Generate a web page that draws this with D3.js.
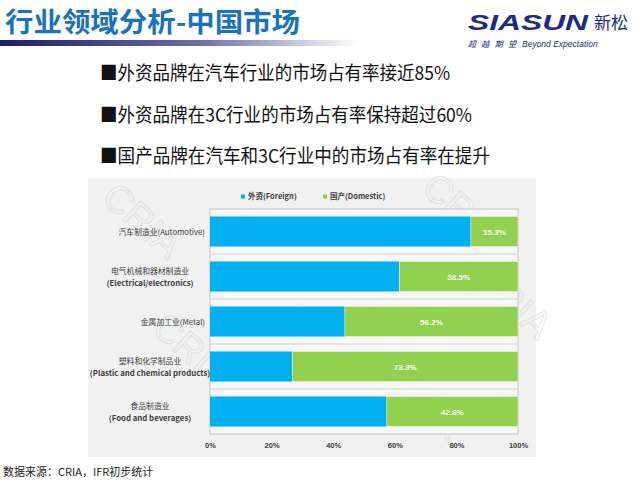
<!DOCTYPE html>
<html>
<head>
<meta charset="utf-8">
<script src="https://cdn.jsdelivr.net/npm/d3@7"></script>
<style>
  body { margin: 0; background: #fff; }
  svg { display: block; font-family: "Noto Sans CJK SC", "Liberation Sans", sans-serif; }
</style>
</head>
<body>
<svg id="chart" width="640" height="481"></svg>
<script>
// chart data
const categories = [
  ["汽车制造业(Automotive)"],
  ["电气机械和器材制造业", "(Electrical/electronics)"],
  ["金属加工业(Metal)"],
  ["塑料和化学制品业", "(Plastic and chemical products)"],
  ["食品制造业", "(Food and beverages)"]
]
const domestic = [15.3, 38.5, 56.2, 73.3, 42.6]
const foreign = domestic.map(d => 100 - d)
const seriesNames = ["外资(Foreign)", "国产(Domestic)"]
const ticks = [0, 20, 40, 60, 80, 100]
const bullets = [
  "外资品牌在汽车行业的市场占有率接近85%",
  "外资品牌在3C行业的市场占有率保持超过60%",
  "国产品牌在汽车和3C行业中的市场占有率在提升"
]
const bulletWidths = [350, 372, 390]

const blue = "#00b0f0", green = "#92d050"
const svg = d3.select("#chart")

// header
let grad = svg.append("defs").append("linearGradient").attr("id", "uline")
grad.append("stop").attr("offset", "0%").attr("stop-color", "#1c1c6b")
grad.append("stop").attr("offset", "55%").attr("stop-color", "#6c6ca8")
grad.append("stop").attr("offset", "100%").attr("stop-color", "#ffffff")
svg.append("rect").attr("x", 0).attr("y", 40).attr("width", 360).attr("height", 6).attr("fill", "url(#uline)")

svg.append("text").attr("x", 5).attr("y", 32)
  .attr("font-size", 27).attr("font-weight", 700).attr("fill", "#1a72bb")
  .attr("textLength", 295).attr("lengthAdjust", "spacingAndGlyphs")
  .text("行业领域分析-中国市场")

// logo
svg.append("text").attr("x", 468).attr("y", 30)
  .attr("font-family", "Liberation Sans").attr("font-size", 22).attr("font-weight", 700)
  .attr("font-style", "italic").attr("fill", "#1d2a8a")
  .attr("textLength", 120).attr("lengthAdjust", "spacingAndGlyphs")
  .text("SIASUN")
svg.append("text").attr("x", 594).attr("y", 29)
  .attr("font-size", 17).attr("fill", "#1d2a8a").text("新松")
svg.append("text").attr("x", 468).attr("y", 47)
  .attr("font-size", 8).attr("font-style", "italic").attr("fill", "#1d2a8a")
  .attr("textLength", 48).text("超越期望")
svg.append("text").attr("x", 522).attr("y", 47)
  .attr("font-family", "Liberation Sans").attr("font-size", 8.5).attr("font-style", "italic").attr("fill", "#1d2a8a")
  .text("Beyond Expectation")

// bullets
svg.selectAll(".bullet").data(bullets).enter().append("text")
  .attr("class", "bullet")
  .attr("x", 100).attr("y", (d, i) => 80 + i * 41.5)
  .attr("font-size", 19).attr("fill", "#111")
  .attr("textLength", (d, i) => bulletWidths[i]).attr("lengthAdjust", "spacingAndGlyphs")
  .text(d => "■" + d)

// chart panel
svg.append("rect").attr("x", 88).attr("y", 178).attr("width", 448).attr("height", 279).attr("fill", "#f1f1f1")

// watermark
const wm = svg.append("g").attr("fill", "none").attr("stroke", "#e0e0e0").attr("stroke-width", 0.8)
  .attr("font-family", "Liberation Sans").attr("font-size", 38)
;[[100, 200], [230, 250], [330, 300], [420, 190], [150, 330], [380, 380], [470, 280]].forEach(p => {
  wm.append("text").attr("transform", `translate(${p[0]},${p[1]}) rotate(42)`).text("CRIA")
})

const m = { left: 210, right: 518, top: 209, bottom: 434 }
const x = d3.scaleLinear().domain([0, 100]).range([m.left, m.right])
const y = d3.scaleBand().domain(d3.range(categories.length)).range([m.top, m.bottom]).paddingInner(1 / 3).paddingOuter(1 / 6)

svg.append("rect").attr("x", m.left).attr("y", m.top)
  .attr("width", m.right - m.left).attr("height", m.bottom - m.top)
  .attr("fill", "#f9f9f9").attr("fill-opacity", 0.8).attr("stroke", "#c3c3c3")

// band separators
svg.selectAll(".sep").data(d3.range(1, categories.length)).enter().append("line")
  .attr("x1", m.left).attr("x2", m.right)
  .attr("y1", i => m.top + i * y.step()).attr("y2", i => m.top + i * y.step())
  .attr("stroke", "#d0d0d0")

const rows = svg.selectAll(".row").data(categories).enter().append("g")
rows.append("rect")
  .attr("x", x(0)).attr("y", (d, i) => y(i))
  .attr("width", (d, i) => x(foreign[i]) - x(0)).attr("height", y.bandwidth())
  .attr("fill", blue)
rows.append("rect")
  .attr("x", (d, i) => x(foreign[i])).attr("y", (d, i) => y(i))
  .attr("width", (d, i) => x(100) - x(foreign[i])).attr("height", y.bandwidth())
  .attr("fill", green).attr("stroke", "#e8f6d8").attr("stroke-width", 0.6)
rows.append("text")
  .attr("x", (d, i) => x(foreign[i] + domestic[i] / 2)).attr("y", (d, i) => y(i) + y.bandwidth() / 2 + 3)
  .attr("text-anchor", "middle").attr("font-family", "Liberation Sans")
  .attr("font-size", 8).attr("font-weight", 700).attr("fill", "#fff")
  .text((d, i) => domestic[i].toFixed(1) + "%")

// category labels
rows.each(function(d, i) {
  let t = d3.select(this).append("text")
    .attr("font-size", 7.8).attr("fill", "#404040")
  let cx = d.length > 1 ? 150 : 205
  t.attr("text-anchor", d.length > 1 ? "middle" : "end")
  d.forEach((line, k) => {
    t.append("tspan").attr("x", cx)
      .attr("y", y(i) + y.bandwidth() / 2 + 3 + (k - (d.length - 1) / 2) * 12)
      .attr("font-weight", /\(/.test(line) && !/[\u4e00-\u9fff]/.test(line) ? 700 : 400)
      .text(line)
  })
})

// x axis
const axis = svg.append("g").attr("transform", `translate(0,${m.bottom})`)
  .call(d3.axisBottom(x).tickValues(ticks).tickFormat(d => d + "%").tickSize(0).tickPadding(9))
axis.select(".domain").remove()
axis.selectAll("text").attr("font-family", "Liberation Sans").attr("font-size", 7.5)
  .attr("font-weight", 700).attr("fill", "#404040")

// legend
const legend = svg.append("g").attr("transform", "translate(241,199)")
seriesNames.forEach((s, i) => {
  let g = legend.append("g").attr("transform", `translate(${i * 82},0)`)
  g.append("rect").attr("x", 0).attr("y", -4.5).attr("width", 4).attr("height", 4)
    .attr("fill", i ? green : blue)
  g.append("text").attr("x", 7).attr("y", 0).attr("font-size", 7.5).attr("font-weight", 700)
    .attr("fill", "#404040").text(s)
})

// source note
svg.append("text").attr("x", 3).attr("y", 476).attr("font-size", 11).attr("fill", "#222")
  .text("数据来源：CRIA，IFR初步统计")
</script>
</body>
</html>
